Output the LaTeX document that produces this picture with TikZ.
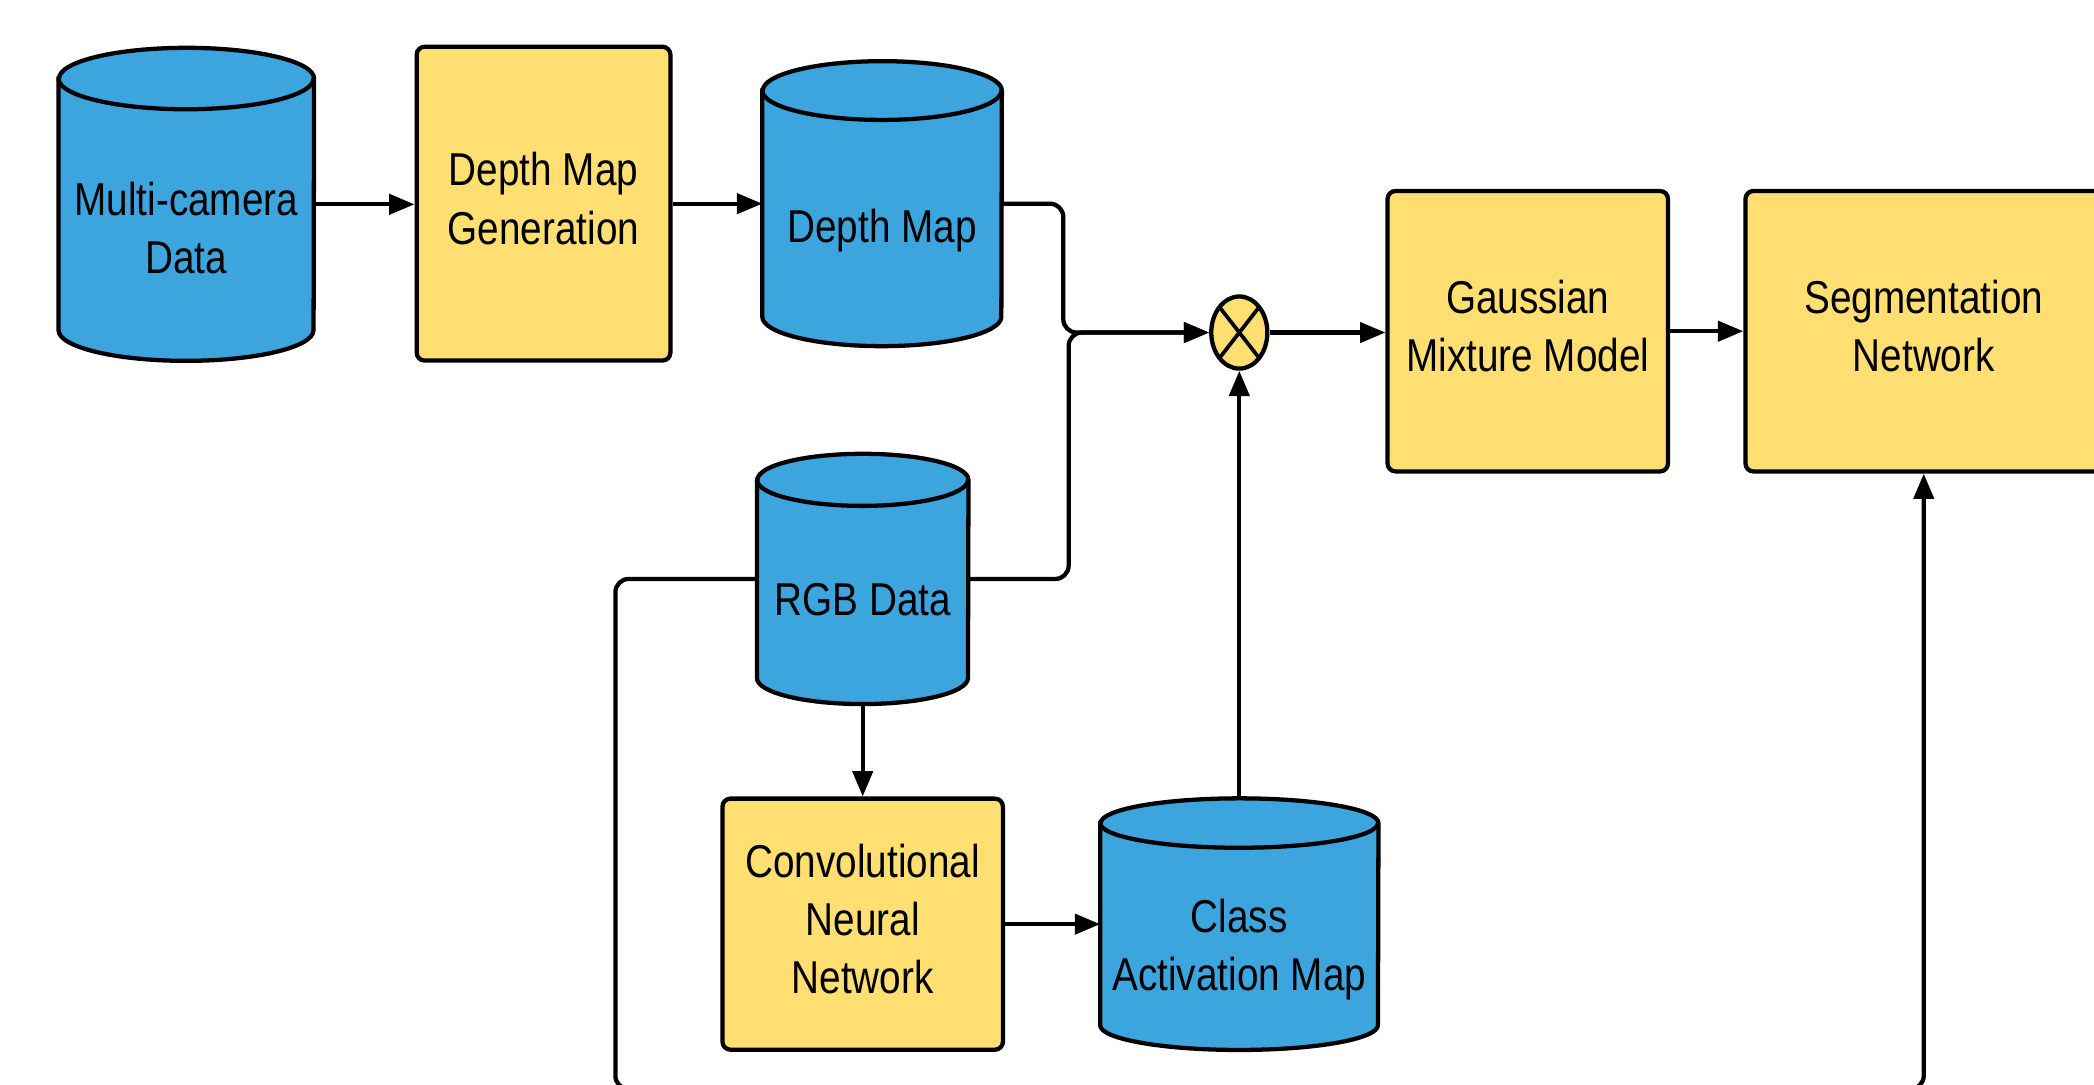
\documentclass[tikz,border=0pt]{standalone}
\usepackage{fontspec}
\setmainfont{Liberation Sans}[FakeStretch=0.84]
\usetikzlibrary{arrows.meta,shapes.geometric}
\definecolor{drumblue}{HTML}{3CA5DD}
\definecolor{stageyellow}{HTML}{FFDF71}
\tikzset{
  stage/.style={draw, line width=3.2pt, fill=stageyellow, rounded corners=6pt, align=center, inner sep=0, text depth=8pt},
  drum/.style={inner sep=0},
  drumtext/.style={align=center, inner sep=0},
  flow/.style={line width=3.2pt, rounded corners=10pt, -{Triangle[length=19pt,width=15pt]}},
}
\newcommand\drawdrum[3]{%
  \path[fill=drumblue, draw, line width=3.2pt]
    ([yshift=-#3pt]#1.north west) -- ([yshift=#3pt]#1.south west)
    arc[start angle=180, end angle=360, x radius=#2pt, y radius=#3pt]
    -- ([yshift=-#3pt]#1.north east)
    arc[start angle=0, end angle=180, x radius=#2pt, y radius=#3pt] -- cycle;
  \draw[line width=3.2pt] ([yshift=-#3pt]#1.north west)
    arc[start angle=180, end angle=360, x radius=#2pt, y radius=#3pt];
}
\begin{document}
\begin{tikzpicture}[x=1pt, y=-1pt, every node/.style={font=\fontsize{34.5}{43.5}\selectfont}]
\useasboundingbox (0,0) rectangle (1568,812);
\clip (0,0) rectangle (1568,812);

\node[drum, minimum width=191, minimum height=234] (mcd) at (139.5,153) {};
\drawdrum{mcd}{95.5}{23}
\node[drumtext] (mcdtext) at (139.5,171) {Multi-camera\\Data};

\node[drum, minimum width=179, minimum height=213] (dmap) at (660.5,152.5) {};
\drawdrum{dmap}{89.5}{22}
\node[drumtext] (dmaptext) at (660.5,173) {Depth Map};

\node[drum, minimum width=158, minimum height=187] (rgb) at (646,433.5) {};
\drawdrum{rgb}{79}{19.5}
\node[drumtext] (rgbtext) at (646,449) {RGB Data};

\node[drum, minimum width=208, minimum height=188] (cam) at (928,692) {};
\drawdrum{cam}{104}{18.5}
\node[drumtext] (camtext) at (928,711) {Class\\Activation Map};

\node[stage, minimum width=190, minimum height=235] (dmg) at (407,152.5) {Depth Map\\Generation};
\node[stage, minimum width=210, minimum height=210] (gmm) at (1144,248) {Gaussian\\Mixture Model};
\node[stage, minimum width=267, minimum height=210] (seg) at (1440.5,248) {Segmentation\\Network};
\node[stage, minimum width=210, minimum height=188] (cnn) at (646,692) {Convolutional\\Neural\\Network};

\node[draw, ellipse, line width=3.2pt, fill=stageyellow, minimum width=42, minimum height=54, inner sep=0,
  path picture={\draw[line width=2.8pt] (path picture bounding box.north west) -- (path picture bounding box.south east)
    (path picture bounding box.north east) -- (path picture bounding box.south west);}] (mult) at (928,249) {};

\path[draw,flow] (mcd.east) -- (mcd.east -| dmg.west);
\path[draw,flow] (dmg.east) -- (dmg.east -| dmap.west);
\path[draw,flow] (dmap.east) -- ++(46,0) |- (mult.west);
\path[draw,flow] (rgb.east) -- ++(75,0) |- (mult.west);
\path[draw,flow] (mult.east) -- (mult.east -| gmm.west);
\path[draw,flow] (gmm.east) -- (gmm.east -| seg.west);
\path[draw,flow] (rgb.south) -- (cnn.north);
\path[draw,flow] (cnn.east) -- (cnn.east -| cam.west);
\path[draw,flow] (cam.north) -- (mult.south);
\path[draw,flow] (rgb.west) -- ++(-106,0) -- ++(0,382) -| (seg.south);
\end{tikzpicture}
\end{document}
